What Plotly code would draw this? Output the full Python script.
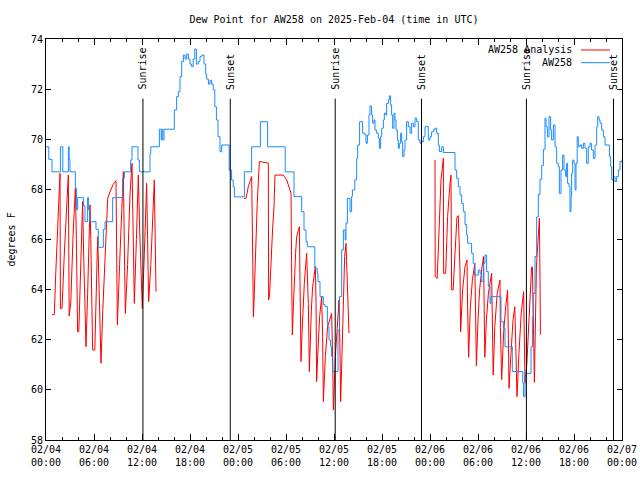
import plotly.graph_objects as go
from datetime import datetime, timedelta

BASE = datetime(2025, 2, 4)

# AW258 observed dew point (hours since 2025-02-04 00:00 UTC, deg F)
obs_hours = [0.0, 0.35, 0.75, 1.8, 2.1, 2.8, 2.9, 3.0, 3.67, 3.83, 3.96, 4.7, 4.875, 5.2, 5.33, 5.46,
             6.25, 6.54, 7.17, 7.375, 8.33, 9.58, 9.8, 10.58, 10.75, 11.5, 11.67, 13.0, 13.1, 14.17,
             14.4, 14.5, 14.6, 14.75, 16.04, 16.33, 16.54, 16.75, 16.96, 17.17, 17.375, 17.58, 17.79,
             18.0, 18.2, 18.4, 18.6, 18.8, 19.04, 19.25, 19.46, 19.75, 19.96, 20.08, 20.3, 20.5, 20.7,
             20.9, 21.1, 21.3, 21.5, 21.75, 21.96, 22.9, 23.2, 23.4, 23.55, 24.8, 25.7, 26.8, 27.7,
             29.9, 31.0, 31.96, 32.25, 32.5, 32.67, 33.6, 33.9, 34.0, 34.25, 34.67, 34.875, 35.17,
             35.375, 35.58, 35.7, 35.83, 36.5, 36.7, 36.96, 37.17, 37.4, 37.5, 37.67, 38.0, 38.2, 38.3,
             38.6, 38.83, 38.96, 39.2, 39.58, 39.875, 40.0, 40.17, 40.375, 40.5, 40.7, 40.83, 41.0,
             41.125, 41.33, 41.54, 41.67, 41.83, 41.96, 42.17, 42.29, 42.46, 42.58, 42.79, 42.92,
             43.08, 43.2, 43.33, 43.5, 43.625, 43.75, 43.92, 44.04, 44.17, 44.33, 44.46, 44.58, 44.75,
             44.875, 45.08, 45.29, 45.5, 45.7, 45.92, 46.125, 46.33, 46.54, 46.75, 46.96, 47.17,
             47.375, 47.79, 48.0, 48.2, 48.42, 48.625, 48.83, 49.04, 49.17, 49.46, 49.67, 51.125,
             51.33, 51.54, 51.75, 51.96, 52.17, 52.375, 52.58, 52.7, 53.2, 53.4, 53.6, 54.04, 54.25,
             54.46, 54.67, 54.875, 55.08, 55.29, 55.5, 55.625, 56.875, 57.17, 57.375, 58.29, 59.6,
             59.7, 59.875, 60.625, 60.8, 60.9, 61.125, 61.33, 61.54, 61.75, 61.96, 62.17, 62.375,
             62.5, 62.67, 62.875, 63.08, 63.2, 63.42, 63.625, 63.83, 64.04, 64.17, 64.375, 64.58,
             64.75, 64.96, 65.08, 65.2, 65.375, 65.5, 65.625, 65.7, 65.83, 66.0, 66.125, 66.25, 66.4,
             66.54, 66.75, 66.96, 67.17, 67.375, 67.58, 67.79, 68.0, 68.2, 68.42, 68.625, 68.83,
             68.96, 69.125, 69.25, 69.46, 69.67, 69.875, 70.42, 70.58, 70.71, 70.92, 71.125, 71.33,
             71.54, 71.75, 72.0]
obs_dewpt = [69.7, 69.2, 68.7, 69.7, 68.7, 69.7, 69.2, 68.7, 68.04, 67.18, 67.67, 67.34, 66.71, 67.67,
             67.18, 66.71, 66.41, 65.69, 66.41, 66.71, 67.67, 68.44, 68.7, 69.17, 69.7, 69.17, 68.7,
             69.44, 69.7, 70.4, 69.97, 70.4, 69.97, 70.4, 71.17, 71.7, 71.9, 72.5, 73.1, 73.36, 73.2,
             73.4, 73.2, 73.0, 72.9, 73.2, 73.6, 73.0, 73.1, 73.3, 73.36, 73.0, 72.6, 72.4, 72.2, 72.35,
             72.2, 71.97, 71.3, 70.77, 70.1, 69.5, 69.77, 68.77, 68.37, 68.1, 67.7, 68.7, 69.7, 70.7,
             69.7, 68.7, 67.71, 67.11, 66.38, 65.91, 65.71, 64.85, 64.65, 64.32, 63.72, 63.4, 63.32,
             62.52, 61.99, 61.72, 61.33, 60.73, 62.39, 63.72, 65.58, 66.38, 65.98, 66.65, 67.64, 67.11,
             67.71, 67.98, 68.38, 69.24, 69.77, 70.7, 70.24, 70.17, 69.84, 70.17, 70.97, 71.33, 70.97,
             70.64, 70.77, 70.37, 70.24, 70.04, 69.64, 70.1, 70.44, 70.77, 71.04, 70.97, 71.43, 71.57,
             71.73, 71.37, 70.97, 70.44, 71.04, 70.77, 70.37, 69.97, 69.64, 69.84, 70.24, 69.9, 69.31,
             69.57, 69.97, 70.7, 70.5, 70.24, 70.64, 70.5, 70.84, 70.7, 69.97, 69.84, 69.9, 70.1, 70.5,
             69.97, 70.1, 70.3, 70.37, 70.44, 70.24, 69.77, 69.51, 69.7, 69.47, 68.77, 68.44, 68.11,
             67.78, 67.44, 67.11, 66.6, 66.18, 65.85, 65.45, 65.05, 64.58, 64.78, 64.65, 64.32, 65.05,
             65.38, 64.72, 64.12, 63.45, 63.72, 62.72, 62.46, 61.72, 60.73, 60.26, 59.73, 60.66, 61.72,
             62.92, 63.85, 65.32, 66.9, 67.8, 68.4, 68.95, 69.6, 70.84, 70.5, 70.1, 70.9, 70.37, 69.97,
             70.57, 69.7, 69.04, 68.91, 67.84, 68.77, 69.37, 68.77, 68.51, 69.04, 68.24, 68.11, 67.11,
             67.71, 68.64, 69.17, 69.04, 67.98, 69.04, 70.1, 69.7, 69.77, 69.64, 69.84, 69.64, 69.04,
             69.7, 69.84, 69.57, 69.24, 69.77, 70.5, 70.9, 70.77, 70.64, 70.37, 70.1, 69.77, 69.31,
             68.91, 68.38, 68.51, 68.31, 68.51, 68.77, 69.11, 69.2]

# AW258 Analysis, three morning segments
ana1_hours = [0.75, 1.04, 1.2, 1.4, 1.6, 1.75, 1.8, 2.0, 2.3, 2.6, 2.79, 2.9, 3.1, 3.4, 3.67, 3.8, 3.95,
              4.1, 4.3, 4.58, 4.7, 4.85, 5.0, 5.2, 5.5, 5.6, 5.83, 6.1, 6.3, 6.46, 6.6, 6.875, 7.1, 7.4,
              7.71, 8.0, 8.4, 8.75, 8.8, 8.92, 9.2, 9.5, 9.67, 9.8, 9.92, 10.2, 10.5, 10.75, 10.9,
              11.04, 11.3, 11.54, 11.7, 12.04, 12.3, 12.58, 12.7, 12.83, 13.1, 13.4, 13.54, 13.75]
ana1_dewpt = [63.0, 63.0, 64.5, 66.3, 67.9, 68.64, 63.25, 63.25, 65.5, 67.5, 68.57, 62.95, 63.5, 66.3,
              68.04, 66.0, 62.32, 62.32, 64.5, 67.51, 65.5, 63.5, 61.72, 63.8, 67.38, 66.0, 61.59,
              61.59, 63.8, 66.11, 64.5, 61.06, 63.2, 65.6, 67.64, 67.9, 68.2, 68.34, 65.5, 62.59, 65.0,
              67.8, 68.71, 65.5, 63.05, 65.0, 67.8, 69.04, 65.5, 63.45, 66.0, 68.57, 66.5, 63.25, 65.5,
              68.24, 66.0, 63.52, 65.0, 67.5, 68.38, 63.92]
ana2_hours = [24.75, 25.0, 25.29, 25.71, 25.85, 25.92, 26.0, 26.25, 26.4, 26.54, 26.67, 27.79, 27.83,
              27.95, 28.08, 28.2, 28.33, 28.5, 28.625, 29.67, 30.08, 30.5, 30.625, 30.7, 30.79, 30.92,
              31.04, 31.2, 31.33, 31.67, 31.75, 31.875, 32.0, 32.17, 32.29, 32.58, 32.79, 32.92, 33.04,
              33.17, 33.33, 33.67, 33.75, 33.83, 33.96, 34.2, 34.46, 34.58, 34.67, 34.92, 35.2, 35.7,
              35.83, 35.92, 36.17, 36.46, 36.625, 36.75, 36.83, 36.96, 37.08, 37.21, 37.33, 37.5, 37.67,
              37.79, 37.875]
ana2_dewpt = [67.64, 67.64, 68.11, 68.51, 65.0, 62.92, 63.5, 66.5, 67.4, 68.3, 69.11, 69.05, 63.59, 63.8,
              64.85, 65.65, 66.45, 67.31, 68.57, 68.57, 68.38, 67.98, 67.84, 65.05, 62.19, 63.32, 64.52,
              65.45, 66.11, 66.51, 64.38, 61.13, 62.26, 63.32, 64.25, 65.45, 63.45, 60.73, 62.12, 63.19,
              64.12, 64.92, 63.59, 60.33, 61.33, 62.92, 63.72, 62.12, 59.53, 61.33, 62.52, 63.05, 61.33,
              59.2, 61.33, 62.92, 63.59, 61.59, 59.53, 60.93, 62.52, 63.99, 65.32, 65.85, 64.52, 63.32,
              62.26]
ana3_hours = [48.625, 48.65, 48.9, 49.1, 49.375, 49.67, 49.7, 49.96, 50.2, 50.5, 50.625, 50.7, 50.9,
              51.125, 51.375, 51.54, 51.75, 51.83, 52.08, 52.375, 52.625, 52.7, 52.83, 53.04, 53.3, 53.6,
              53.67, 53.8, 54.0, 54.2, 54.5, 54.7, 54.77, 54.85, 55.05, 55.3, 55.7, 55.8, 55.9, 56.1,
              56.4, 56.75, 56.8, 56.96, 57.2, 57.46, 57.7, 57.8, 57.875, 58.125, 58.375, 58.6, 58.7,
              58.875, 59.125, 59.4, 59.7, 59.8, 59.875, 60.1, 60.4, 60.7, 60.8, 60.9, 61.05, 61.3,
              61.67, 61.75, 61.8]
ana3_dewpt = [69.17, 64.52, 64.45, 66.38, 68.38, 69.24, 64.65, 64.65, 66.91, 68.24, 68.57, 63.99, 63.99,
              65.45, 66.91, 66.95, 64.78, 62.32, 63.99, 64.92, 65.18, 63.32, 61.3, 63.32, 64.38, 65.05,
              63.3, 60.96, 62.79, 63.99, 64.92, 65.32, 63.3, 61.3, 62.8, 63.85, 64.65, 62.8, 60.59,
              62.52, 63.85, 64.38, 62.5, 60.41, 62.26, 63.32, 63.99, 62.0, 60.06, 61.46, 62.79, 63.32,
              61.5, 59.73, 61.5, 63.05, 63.92, 62.0, 60.26, 61.0, 63.0, 64.9, 64.9, 63.2, 60.3, 64.9,
              66.85, 64.5, 62.2]

sun_labels = ["Sunrise", "Sunset", "Sunrise", "Sunset", "Sunrise", "Sunset"]
sun_times = ["2025-02-04 12:07", "2025-02-04 23:02", "2025-02-05 12:09",
             "2025-02-05 22:56", "2025-02-06 12:03", "2025-02-06 22:56"]

y_ticks = [58, 60, 62, 64, 66, 68, 70, 72, 74]
series_names = ["AW258 Analysis", "AW258"]


def to_time(hours):
    return [BASE + timedelta(hours=h) if h is not None else None for h in hours]


ana_hours = ana1_hours + [None] + ana2_hours + [None] + ana3_hours
ana_dewpt = ana1_dewpt + [None] + ana2_dewpt + [None] + ana3_dewpt

FONT = "DejaVu Sans Mono"
RED = "#ff0000"
BLUE = "#1a8cff"
W, H = 640, 480

fig = go.Figure()
fig.add_trace(go.Scatter(x=to_time(ana_hours), y=ana_dewpt, mode="lines", name=series_names[0],
                         line=dict(color=RED, width=1), connectgaps=False, showlegend=False))
fig.add_trace(go.Scatter(x=to_time(obs_hours), y=obs_dewpt, mode="lines", name=series_names[1],
                         line=dict(color=BLUE, width=1, shape="hv"), showlegend=False))

for lab, t in zip(sun_labels, sun_times):
    fig.add_shape(type="line", xref="x", yref="y", x0=t, x1=t, y0=58, y1=71.62,
                  line=dict(color="black", width=1))
    fig.add_annotation(x=t, y=71.9, xref="x", yref="y", text=lab, textangle=-90,
                       showarrow=False, xanchor="center", yanchor="bottom",
                       font=dict(family=FONT, size=10, color="black"))

# gnuplot-style key: text then sample line, top right
legend_rows = [(series_names[0], RED, 0.9726), (series_names[1], BLUE, 0.9409)]
for name, col, yy in legend_rows:
    fig.add_annotation(x=0.9167, y=yy, xref="paper", yref="paper", text=name, showarrow=False,
                       xanchor="right", yanchor="middle", font=dict(family=FONT, size=10, color="black"))
    fig.add_shape(type="line", xref="paper", yref="paper", x0=0.9288, x1=0.9792, y0=yy, y1=yy,
                  line=dict(color=col, width=1))

# y axis label, placed like gnuplot's ylabel
fig.add_annotation(x=(11 - 46) / 576, y=0.5, xref="paper", yref="paper", text="degrees F",
                   textangle=-90, showarrow=False, xanchor="center", yanchor="middle",
                   font=dict(family=FONT, size=10, color="black"))

fig.update_layout(
    width=W, height=H, autosize=False,
    margin=dict(l=46, r=18, t=39, b=40, autoexpand=False),
    paper_bgcolor="white", plot_bgcolor="white",
    font=dict(family=FONT, size=10, color="black"),
    title=dict(text="Dew Point for AW258 on 2025-Feb-04 (time in UTC)",
               x=0.5 * (46 + 622) / W, xanchor="center",
               y=1 - 19 / H, yanchor="middle", yref="container",
               font=dict(family=FONT, size=10, color="black")),
    showlegend=False,
)
fig.update_xaxes(
    range=[BASE, BASE + timedelta(hours=72)], type="date", automargin=False,
    tick0=BASE, dtick=6 * 3600 * 1000, tickformat="%m/%d<br>%H:%M",
    ticks="inside", ticklen=6, tickcolor="black", tickwidth=1,
    minor=dict(dtick=2 * 3600 * 1000, ticks="inside", ticklen=3, tickcolor="black", tickwidth=1),
    showline=True, linecolor="black", linewidth=1, mirror="ticks",
    showgrid=False, zeroline=False, tickfont=dict(family=FONT, size=10, color="black"),
)
fig.update_yaxes(
    range=[58, 74], tickvals=y_ticks, ticktext=[str(v) for v in y_ticks], automargin=False,
    ticks="inside", ticklen=5, tickcolor="black", tickwidth=1,
    showline=True, linecolor="black", linewidth=1, mirror="ticks",
    showgrid=False, zeroline=False, tickfont=dict(family=FONT, size=10, color="black"),
)

# drop the browser's default 8px page margin so the 640x480 figure fills the window
fig.write_html("out.html", config={"displayModeBar": False},
               post_script="document.body.style.margin='0';document.body.style.overflow='hidden';")
